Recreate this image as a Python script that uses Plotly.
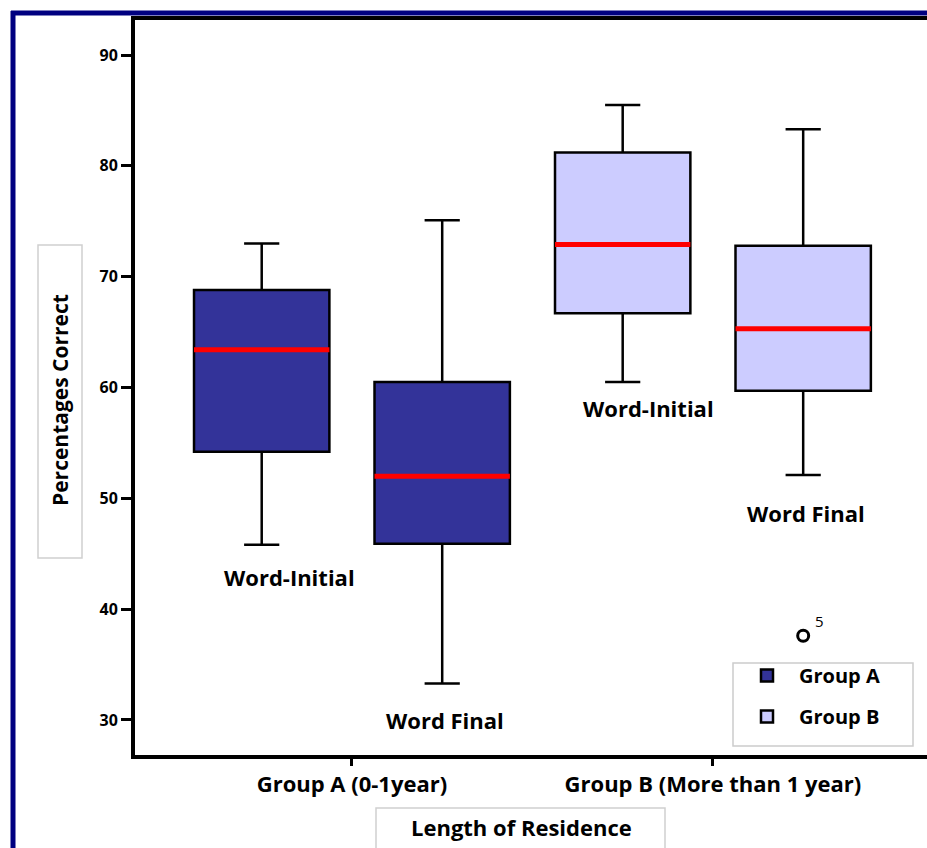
import plotly.graph_objects as go

# ---------------- data ----------------
groups = ["Group A (0-1year)", "Group B (More than 1 year)"]
positions = ["Word-Initial", "Word Final"]
legend_names = ["Group A", "Group B"]
# values per group: [Word-Initial, Word Final]
q1_vals = [[54.2, 45.9], [66.7, 59.7]]
median_vals = [[63.4, 52.0], [72.9, 65.3]]
q3_vals = [[68.8, 60.5], [81.2, 72.8]]
lower_vals = [[45.8, 33.3], [60.5, 52.1]]
upper_vals = [[73.0, 75.1], [85.5, 83.3]]
outlier_vals = [[[], []], [[], [37.6]]]
outlier_ids = [[[], []], [[], ["5"]]]
y_ticks = [30, 40, 50, 60, 70, 80, 90]

# ---------------- style ----------------
FILL = ["#333399", "#CCCCFF"]
FONT = "Open Sans"
W_FIG, H_FIG = 927, 848
L, T, R, B = 135, 20, 927, 755
PW, PH = R - L, B - T
BOXGAP, BOXGROUPGAP = 0.0, 0.25
Y_RANGE = [26.84, 93.16]
X_RANGE = [-0.601, 1.593]


def px(x):
    return (x - L) / PW


def py(y):
    return (B - y) / PH


offsets = [-(1 - BOXGAP) / 4, (1 - BOXGAP) / 4]
# label shifts (px) relative to box centre / lower whisker
label_shift = [[(28, -32), (3, -37)], [(26, -26), (3, -38)]]

fig = go.Figure()

for gi, g in enumerate(groups):
    for pi, p in enumerate(positions):
        kw = {}
        if outlier_vals[gi][pi]:
            kw["y"] = [outlier_vals[gi][pi]]
            kw["boxpoints"] = "outliers"
        else:
            kw["boxpoints"] = False
        fig.add_trace(go.Box(
            x=[g],
            q1=[q1_vals[gi][pi]], median=[median_vals[gi][pi]], q3=[q3_vals[gi][pi]],
            lowerfence=[lower_vals[gi][pi]], upperfence=[upper_vals[gi][pi]],
            offsetgroup=p,
            name=legend_names[gi], legendgroup=legend_names[gi],
            showlegend=(pi == 0),
            fillcolor=FILL[gi],
            line=dict(color="black", width=2.5),
            whiskerwidth=0.26,
            marker=dict(symbol="circle-open", color="black", size=11,
                        line=dict(width=3, color="black")),
            pointpos=0, jitter=0,
            **kw,
        ))

# red median lines
for gi, g in enumerate(groups):
    for pi, p in enumerate(positions):
        m = median_vals[gi][pi]
        fig.add_trace(go.Box(
            x=[g], q1=[m], median=[m], q3=[m], lowerfence=[m], upperfence=[m],
            offsetgroup=p, showlegend=False, hoverinfo="skip",
            fillcolor="rgba(0,0,0,0)", line=dict(color="red", width=5),
            whiskerwidth=0, boxpoints=False,
        ))

annotations = []
for gi, g in enumerate(groups):
    for pi, p in enumerate(positions):
        dx, dy = label_shift[gi][pi]
        annotations.append(dict(
            x=gi + offsets[pi], y=lower_vals[gi][pi], xref="x", yref="y",
            text=p, showarrow=False, xshift=dx, yshift=dy,
            xanchor="center", yanchor="middle",
            font=dict(family=FONT, size=22, color="black", weight="bold"),
        ))
        for v, lab in zip(outlier_vals[gi][pi], outlier_ids[gi][pi]):
            annotations.append(dict(
                x=gi + offsets[pi], y=v, xref="x", yref="y", text=lab,
                showarrow=False, xshift=16, yshift=15,
                xanchor="center", yanchor="middle",
                font=dict(family=FONT, size=15, color="black"),
            ))

annotations.append(dict(
    x=px(60), y=py(400), xref="paper", yref="paper", text="Percentages Correct",
    textangle=-90, showarrow=False, xanchor="center", yanchor="middle",
    font=dict(family=FONT, size=21, color="black", weight="bold"),
))
annotations.append(dict(
    x=px(521), y=py(827), xref="paper", yref="paper", text="Length of Residence",
    showarrow=False, xanchor="center", yanchor="middle",
    font=dict(family=FONT, size=22, color="black", weight="bold"),
))

shapes = [
    dict(type="rect", xref="paper", yref="paper", x0=px(38), x1=px(82),
         y0=py(558), y1=py(245), line=dict(color="#d0d0d0", width=1.5)),
    dict(type="rect", xref="paper", yref="paper", x0=px(376), x1=px(665),
         y0=py(860), y1=py(808), line=dict(color="#d0d0d0", width=1.5)),
    # legend frame
    dict(type="rect", xref="paper", yref="paper", x0=px(733), x1=px(913),
         y0=py(746), y1=py(663), line=dict(color="#cccccc", width=1.5),
         layer="below"),
    dict(type="line", xref="paper", yref="paper", x0=px(13), x1=px(13),
         y0=py(11), y1=py(860), line=dict(color="#000080", width=5)),
    dict(type="line", xref="paper", yref="paper", x0=px(11), x1=px(940),
         y0=py(13), y1=py(13), line=dict(color="#000080", width=5)),
]

fig.update_layout(
    width=W_FIG, height=H_FIG,
    margin=dict(l=L, r=W_FIG - R, t=T, b=H_FIG - B),
    paper_bgcolor="white", plot_bgcolor="white",
    boxmode="group", boxgap=BOXGAP, boxgroupgap=BOXGROUPGAP,
    showlegend=True,
    legend=dict(
        x=px(735), y=py(656), xanchor="left", yanchor="top",
        borderwidth=0, bgcolor="rgba(0,0,0,0)",
        font=dict(family=FONT, size=20, color="black", weight="bold"),
        traceorder="grouped", tracegroupgap=12, itemwidth=54,
    ),
    annotations=annotations,
    shapes=shapes,
    font=dict(family=FONT, color="black"),
)

fig.update_xaxes(
    type="category", categoryorder="array", categoryarray=groups,
    range=X_RANGE, showline=True, linecolor="black", linewidth=4, mirror=True,
    ticks="outside", ticklen=7, tickwidth=3, tickcolor="black",
    showgrid=False, zeroline=False,
    tickfont=dict(family=FONT, size=22, color="black", weight="bold"),
)
fig.update_yaxes(
    range=Y_RANGE, tickvals=y_ticks, ticktext=[str(v) for v in y_ticks],
    showline=True, linecolor="black", linewidth=4, mirror=False,
    ticks="outside", ticklen=10, tickwidth=3, tickcolor="black",
    showgrid=False, zeroline=False,
    tickfont=dict(family=FONT, size=16, color="black", weight="bold"),
)

fig.write_html("out.html", config={"displayModeBar": False},
               post_script="document.body.style.margin='0';")
